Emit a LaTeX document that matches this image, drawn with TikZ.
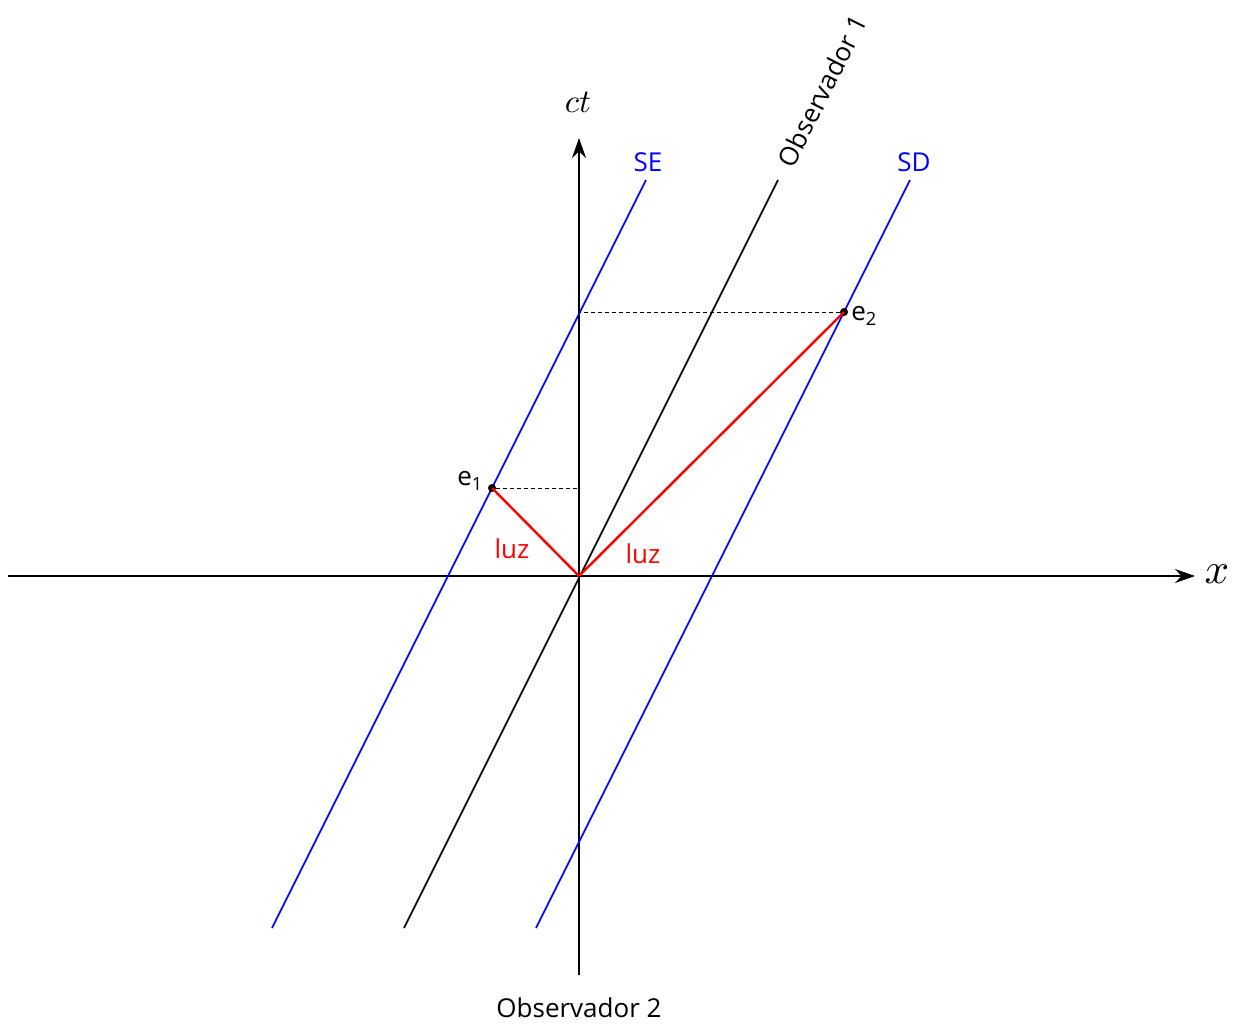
\documentclass[tikz,border=0pt]{standalone}
\usepackage{fontspec}
\setmainfont{Open Sans}
\usetikzlibrary{arrows.meta}
\begin{document}
\begin{tikzpicture}[x=1pt,y=-1pt,
  axis/.style={line width=1.8pt,-{Stealth[length=20pt,width=14pt]}},
  obs/.style={line width=1.6pt,black},
  sim/.style={line width=1.6pt,blue},
  luzline/.style={line width=2.4pt,red},
  guide/.style={line width=1pt,dash pattern=on 4pt off 3pt},
  lab/.style={font=\fontsize{26}{30}\selectfont},
  dot/.style={circle,fill=black,inner sep=0pt,minimum size=8pt}]
\useasboundingbox (0,0) rectangle (1237,1025);
% coordinates
\coordinate (O) at (579,576);
\coordinate (xl) at (8,576);
\coordinate (xr) at (1195,576);
\coordinate (tb) at (579,975);
\coordinate (tt) at (579,138);
\coordinate (o1b) at (404,928);
\coordinate (o1t) at (778,180);
\coordinate (seb) at (272,928);
\coordinate (set) at (646,180);
\coordinate (sdb) at (536,928);
\coordinate (sdt) at (910,180);
\coordinate (p1) at (579,488);
\coordinate (p2) at (579,312);
% axes
\draw[axis] (xl) -- (xr);
\draw[axis] (tb) -- (tt);
\node[scale=4.3] (xlab) at (1217,574) {$x$};
\node[scale=3.3] (ctlab) at (578,102) {$ct$};
% world lines
\draw[obs] (o1b) -- (o1t);
\draw[sim] (seb) -- (set);
\draw[sim] (sdb) -- (sdt);
% events
\node[dot] (e1) at (492,488) {};
\node[dot] (e2) at (844,312) {};
\draw[guide] (e1) -- (p1);
\draw[guide] (e2) -- (p2);
\draw[luzline] (O) -- (e1.center);
\draw[luzline] (O) -- (e2.center);
% labels
\node[lab,text=blue] (selab) at (648,162) {SE};
\node[lab,text=blue] (sdlab) at (914,162) {SD};
\node[lab,text=red] (luz1) at (512,549) {luz};
\node[lab,text=red] (luz2) at (643,554) {luz};
\node[lab] (e1lab) at (470,481) {e\textsubscript{1}};
\node[lab] (e2lab) at (864,316) {e\textsubscript{2}};
\node[lab,rotate=63.43] (o1lab) at (822,91) {Observador 1};
\node[lab] (o2lab) at (579,1008) {Observador 2};
\end{tikzpicture}
\end{document}
